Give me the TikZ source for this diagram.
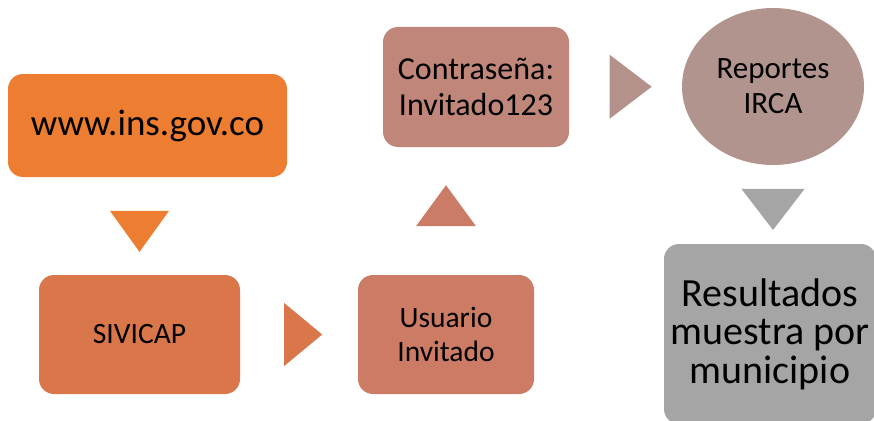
\documentclass[tikz,border=0pt]{standalone}
\usepackage{fontspec}
\setmainfont{Carlito}
\usepackage{tikz}
\usetikzlibrary{calc,shapes.geometric}

\definecolor{cweb}{HTML}{ED7D31}
\definecolor{csivicap}{HTML}{D9774B}
\definecolor{cusuario}{HTML}{CC7B65}
\definecolor{ccontra}{HTML}{BF8679}
\definecolor{creporte}{HTML}{B2948F}
\definecolor{cresult}{HTML}{A5A5A5}

\begin{document}
\begin{tikzpicture}[x=1pt,y=-1pt,
      box/.style={
            rectangle, rounded corners=15pt,
            inner sep=0pt, text=black, align=center
        },
      tri/.style={
            isosceles triangle, isosceles triangle stretches,
            inner sep=0pt, draw=none
        }
      ]
    \useasboundingbox (0,0) rectangle (874,420);
    \clip (0,0) rectangle (874,420);

    \node[box,fill=cweb,minimum width=279pt,minimum height=103pt,
          font=\fontsize{37}{44}\selectfont] (web) at (147.5,125.5) {www.ins.gov.co};
    \node[box,fill=csivicap,minimum width=201pt,minimum height=119pt,
          font=\fontsize{29.5}{34}\selectfont] (sivicap) at (139.5,334.5) {SIVICAP};
    \node[box,fill=cusuario,minimum width=176pt,minimum height=119pt,
          font=\fontsize{29.5}{34}\selectfont] (usuario) at (446,334.5) {Usuario\\Invitado};
    \node[box,fill=ccontra,minimum width=186pt,minimum height=120pt,
          font=\fontsize{32}{36}\selectfont] (contra) at (476,87) {Contraseña:\\Invitado123};
    \node[ellipse,fill=creporte,minimum width=182pt,minimum height=157pt,inner sep=0pt,
          align=center,font=\fontsize{31}{35}\selectfont] (reporte) at (773,86.5) {Reportes\\IRCA};
    \node[box,fill=cresult,minimum width=212pt,minimum height=180pt,
          font=\fontsize{40}{38.5}\selectfont] (result) at (770,334) {Resultados\\muestra por\\municipio};

    % flechas entre pasos
    \node[tri,fill=cweb,shape border rotate=-90,minimum width=59pt,minimum height=41pt]
      (t1) at ($(web.south -| sivicap)!0.5!(sivicap.north)$) {};
    \node[tri,fill=csivicap,shape border rotate=0,minimum width=63pt,minimum height=38pt]
      (t2) at ($(sivicap.east)!0.5!(usuario.west)$) {};
    \node[tri,fill=cusuario!95!ccontra,shape border rotate=90,minimum width=60pt,minimum height=41pt]
      (t3) at ($(usuario.north)!0.5!(usuario.north |- contra.south)$) {};
    \node[tri,fill=creporte!80!ccontra,shape border rotate=0,minimum width=64pt,minimum height=42pt]
      (t4) at ($(contra.east)!0.5!(reporte.west)$) {};
    \node[tri,fill=cresult,shape border rotate=-90,minimum width=63pt,minimum height=41pt]
      (t5) at ($(reporte.south)!0.5!(reporte.south |- result.north)$) {};
\end{tikzpicture}
\end{document}
